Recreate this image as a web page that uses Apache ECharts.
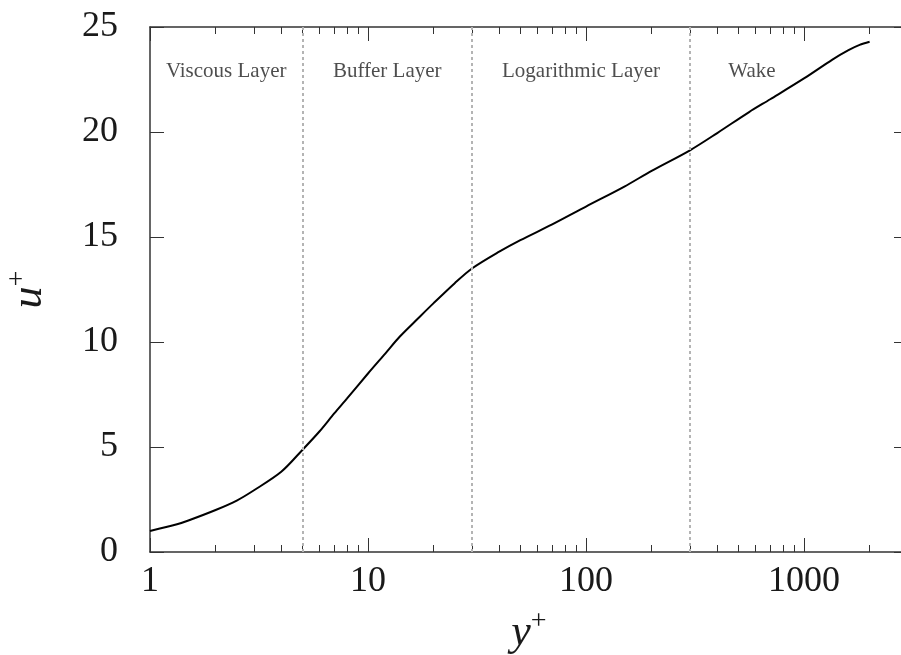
<!DOCTYPE html>
<html>
<head>
<meta charset="utf-8">
<script src="https://cdn.jsdelivr.net/npm/echarts@6/dist/echarts.min.js"></script>
<style>
html,body{margin:0;padding:0;overflow:hidden;background:#fff;}
#main{width:920px;height:655px;}
</style>
</head>
<body>
<div id="main"></div>
<script>
// y+ positions and u+ values of the mean velocity profile
const yPlus = [1, 1.33, 1.5, 2, 2.5, 3, 4, 5, 6, 7, 8, 10, 12, 14, 17, 20, 25, 30, 40, 50, 70, 100, 150, 200, 300, 400, 560, 700, 1000, 1350, 1600, 1800, 2000];
const uPlus = [1.0, 1.32, 1.5, 2.0, 2.45, 2.94, 3.82, 4.86, 5.75, 6.6, 7.3, 8.5, 9.45, 10.26, 11.13, 11.85, 12.8, 13.5, 14.3, 14.85, 15.6, 16.45, 17.4, 18.15, 19.13, 19.95, 20.95, 21.56, 22.55, 23.45, 23.9, 24.15, 24.3];

// region boundaries (dashed lines)
const boundaries = [5, 30, 300];

// region labels
const regionNames = ['Viscous Layer', 'Buffer Layer', 'Logarithmic Layer', 'Wake'];
const regionX = [2.236, 12.25, 94.9, 577];
const regionY = [22.9, 22.9, 22.9, 22.9];

// ticks
const xMajorTicks = [1, 10, 100, 1000];
const xMinorTicks = [2,3,4,5,6,7,8,9,20,30,40,50,60,70,80,90,200,300,400,500,600,700,800,900,2000];
const xMin = 1, xMax = 3000;
const yMin = 0, yMax = 25, yStep = 5;

const serif = '"Liberation Serif", "DejaVu Serif", serif';
const axisColor = '#333';

function xAxisCfg(pos, ticks, len, labels, line) {
  return {
    type: 'log', logBase: 10, min: xMin, max: xMax, position: pos,
    axisLine: {show: line, onZero: false, lineStyle: {color: axisColor, width: 1.5}},
    axisTick: {show: true, inside: true, length: len, customValues: ticks, lineStyle: {color: axisColor, width: 1}},
    axisLabel: labels ? {show: true, customValues: xMajorTicks, formatter: v => String(Math.round(v)), fontFamily: serif, fontSize: 36, color: '#1a1a1a', margin: 12} : {show: false},
    splitLine: {show: false},
    minorTick: {show: false}
  };
}

const chart = echarts.init(document.getElementById('main'), null, {renderer: 'canvas'});
chart.setOption({
  animation: false,
  backgroundColor: '#fff',
  grid: {left: 150, top: 27, width: 758, height: 525, containLabel: false, outerBoundsMode: 'none'},
  xAxis: [
    Object.assign(xAxisCfg('bottom', xMajorTicks, 14, true, true), {
      name: '{i|y}{s|+}', nameLocation: 'middle', nameGap: 56,
      nameTextStyle: {rich: {
        i: {fontFamily: serif, fontStyle: 'italic', fontSize: 44, color: '#1a1a1a'},
        s: {fontFamily: serif, fontSize: 28, color: '#1a1a1a', verticalAlign: 'top', padding: [0,0,22,0]}
      }}
    }),
    xAxisCfg('bottom', xMinorTicks, 7, false, false),
    xAxisCfg('top', xMajorTicks, 14, false, true),
    xAxisCfg('top', xMinorTicks, 7, false, false)
  ],
  yAxis: [
    {
      type: 'value', min: yMin, max: yMax, interval: yStep, position: 'left',
      name: '{i|u}{s|+}', nameLocation: 'middle', nameGap: 96, nameRotate: 90,
      nameTextStyle: {rich: {
        i: {fontFamily: serif, fontStyle: 'italic', fontSize: 44, color: '#1a1a1a'},
        s: {fontFamily: serif, fontSize: 28, color: '#1a1a1a', padding: [0,0,22,0]}
      }},
      axisLine: {show: true, onZero: false, lineStyle: {color: axisColor, width: 1.5}},
      axisTick: {show: true, inside: true, length: 14, lineStyle: {color: axisColor, width: 1}},
      axisLabel: {fontFamily: serif, fontSize: 36, color: '#1a1a1a', margin: 32},
      splitLine: {show: false}
    },
    {
      type: 'value', min: yMin, max: yMax, interval: yStep, position: 'right',
      axisLine: {show: true, onZero: false, lineStyle: {color: axisColor, width: 1.5}},
      axisTick: {show: true, inside: true, length: 14, lineStyle: {color: axisColor, width: 1}},
      axisLabel: {show: false},
      splitLine: {show: false}
    }
  ],
  series: [
    {
      type: 'line',
      xAxisIndex: 0, yAxisIndex: 0,
      data: yPlus.map((x, i) => [x, uPlus[i]]),
      smooth: 0.3,
      showSymbol: false,
      lineStyle: {color: '#000', width: 2},
      markLine: {
        silent: true, symbol: 'none',
        label: {show: false},
        lineStyle: {color: '#b4b4b4', width: 2, type: [3, 3]},
        data: boundaries.map(b => ({xAxis: b}))
      },
      z: 3
    },
    {
      type: 'scatter',
      xAxisIndex: 0, yAxisIndex: 0,
      symbolSize: 0,
      silent: true,
      data: regionX.map((x, i) => [x, regionY[i], regionNames[i]]),
      label: {
        show: true, position: 'inside',
        formatter: p => p.data[2],
        fontFamily: serif, fontSize: 21, color: '#222'
      }
    }
  ]
});
</script>
</body>
</html>
